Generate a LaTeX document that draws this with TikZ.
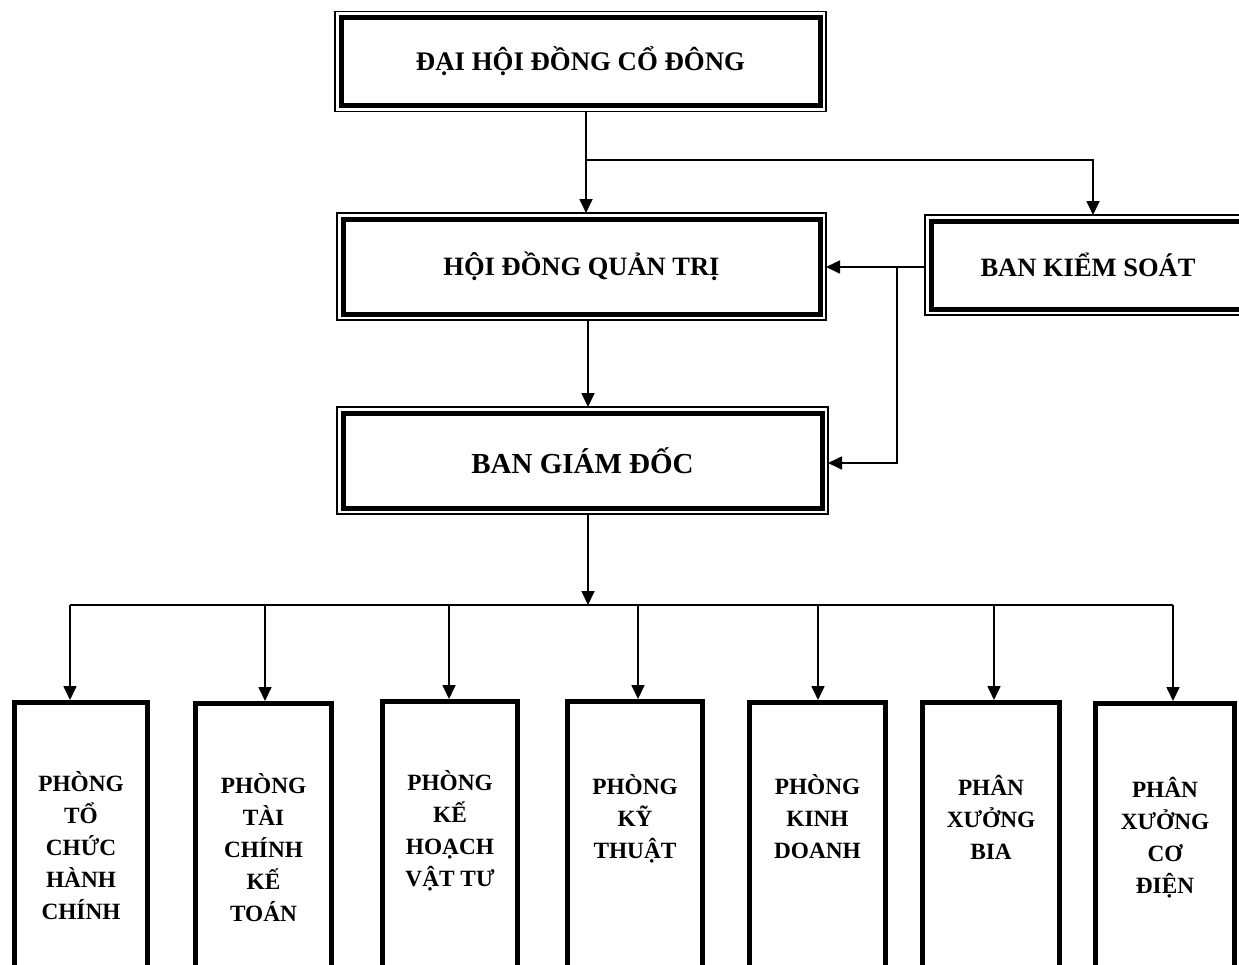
\documentclass[tikz,border=0pt]{standalone}
\usepackage{fontspec}
\setmainfont{Liberation Serif}
\usetikzlibrary{arrows.meta,calc}
\begin{document}
\begin{tikzpicture}[x=1pt,y=-1pt,
  ln/.style={line width=1.7pt},
  arr/.style={line width=1.7pt,-{Triangle[length=14pt,width=13pt]}},
  dbox/.style={draw,line width=5pt,inner sep=0pt,outer sep=6pt,font=\bfseries\fontsize{26.5}{30}\selectfont},
  dframe/.style={draw,line width=1.5pt},
  obox/.style={draw,line width=5pt,inner sep=0pt,anchor=north,minimum height=330pt},
  otext/.style={inner sep=0pt,anchor=north,align=center,font=\bfseries\fontsize{23.3}{32}\selectfont}]
\useasboundingbox (0,0) rectangle (1239,964);
\fill[white] (0,0) rectangle (1239,964);
\clip (0,0) rectangle (1239,964);

% top boxes
\node[dbox,minimum width=479pt,minimum height=88pt,font=\bfseries\fontsize{26.8}{30}\selectfont] (dh) at (580.5,61.5) {ĐẠI HỘI ĐỒNG CỔ ĐÔNG};
\node[dbox,minimum width=477pt,minimum height=95pt] (hd) at (581.5,266.5) {HỘI ĐỒNG QUẢN TRỊ};
\node[dbox,minimum width=479pt,minimum height=95pt,font=\bfseries\fontsize{29}{30}\selectfont] (bgd) at (582.5,460.5) {BAN GIÁM ĐỐC};
\node[dbox,minimum width=314pt,minimum height=88pt] (bks) at (1088,265) {BAN KIỂM SOÁT};
\foreach \n in {dh,hd,bgd,bks}{\draw[dframe] (\n.north west) rectangle (\n.south east);}

% bottom boxes
\node[obox,minimum width=133pt] (b1) at (81,700) {};
\node[obox,minimum width=136pt] (b2) at (263.5,701) {};
\node[obox,minimum width=135pt] (b3) at (450,699) {};
\node[obox,minimum width=135pt] (b4) at (635,699) {};
\node[obox,minimum width=136pt] (b5) at (817.5,700) {};
\node[obox,minimum width=137pt] (b6) at (991,700) {};
\node[obox,minimum width=139pt] (b7) at (1165,701) {};

\node[otext] (t1) at (81,771) {PHÒNG\\TỔ\\CHỨC\\HÀNH\\CHÍNH};
\node[otext] (t2) at (263.5,773) {PHÒNG\\TÀI\\CHÍNH\\KẾ\\TOÁN};
\node[otext] (t3) at (450,770) {PHÒNG\\KẾ\\HOẠCH\\VẬT TƯ};
\node[otext] (t4) at (635,774) {PHÒNG\\KỸ\\THUẬT};
\node[otext] (t5) at (817.5,774) {PHÒNG\\KINH\\DOANH};
\node[otext] (t6) at (991,775) {PHÂN\\XƯỞNG\\BIA};
\node[otext] (t7) at (1165,777) {PHÂN\\XƯỞNG\\CƠ\\ĐIỆN};

% connectors
\coordinate (j1) at (586,160);
\coordinate (j1r) at (1093,160);
\draw[ln] (dh.south -| j1) -- (j1);
\draw[arr] (j1) -- (hd.north -| j1);
\draw[arr] (j1) -| (bks.north -| j1r);

\coordinate (k) at (897,267);
\coordinate (k2) at (897,463);
\draw[arr] (bks.west |- k) -- (hd.east |- k);
\draw[arr] (k) |- (bgd.east |- k2);

\coordinate (j2) at (588,0);
\draw[arr] (hd.south -| j2) -- (bgd.north -| j2);

\coordinate (bus) at (588,605);
\draw[arr] (bgd.south -| bus) -- (bus);

\coordinate (d1) at (70,605);
\coordinate (d2) at (265,605);
\coordinate (d3) at (449,605);
\coordinate (d4) at (638,605);
\coordinate (d5) at (818,605);
\coordinate (d6) at (994,605);
\coordinate (d7) at (1173,605);
\draw[ln] (d1) -- (d7);
\foreach \i in {1,...,7}{\draw[arr] (d\i) -- (b\i.north -| d\i);}
\end{tikzpicture}
\end{document}
